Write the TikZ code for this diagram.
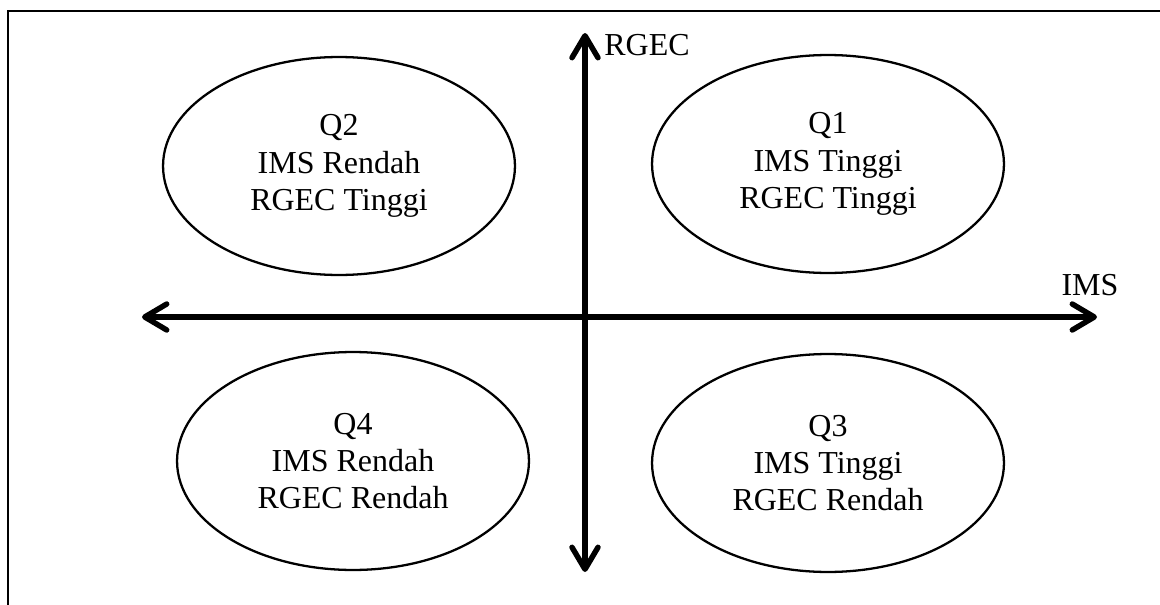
\documentclass[tikz,border=0pt]{standalone}
\usepackage{fontspec}
\setmainfont{Liberation Serif}
\usetikzlibrary{shapes.geometric, arrows.meta}
\tikzstyle{quadrant} = [ellipse, minimum width=7.04cm, minimum height=4.36cm, inner sep=0pt, align=center, draw=black, line width=1.3pt, font=\fontsize{18.2}{21.3}\selectfont]
\tikzstyle{axislabel} = [inner sep=0pt, font=\fontsize{18.2}{21.3}\selectfont]
\tikzstyle{axis} = [line width=3.1pt, line cap=round, {Straight Barb[length=0.44cm,width=0.52cm,round]}-{Straight Barb[length=0.44cm,width=0.52cm,round]}]
\tikzstyle{frame} = [line width=1.2pt]

\begin{document}
\begin{tikzpicture}[x=0.02cm, y=-0.02cm]
   \useasboundingbox (0,0) rectangle (1160,605);
   \clip (0,0) rectangle (1160,605);
   \draw [frame] (8,630) -- (8,11) -- (1180,11);
   % axis ends
   \coordinate (north) at (585,33);
   \coordinate (south) at (585,572);
   \coordinate (west) at (142,317);
   \coordinate (east) at (1097,317);
   \node (q2) [quadrant] at (339,166) {Q2\\IMS Rendah\\RGEC Tinggi};
   \node (q1) [quadrant] at (828,164) {Q1\\IMS Tinggi\\RGEC Tinggi};
   \node (q4) [quadrant] at (353,461) {Q4\\IMS Rendah\\RGEC Rendah};
   \node (q3) [quadrant] at (828,463) {Q3\\IMS Tinggi\\RGEC Rendah};
   \draw [axis] (west) -- (east);
   \draw [axis] (south) -- (north);
   \node (rgec) [axislabel, anchor=base west] at (604,55) {RGEC};
   \node (ims) [axislabel, anchor=base] at (1090,295) {IMS};
\end{tikzpicture}
\end{document}
